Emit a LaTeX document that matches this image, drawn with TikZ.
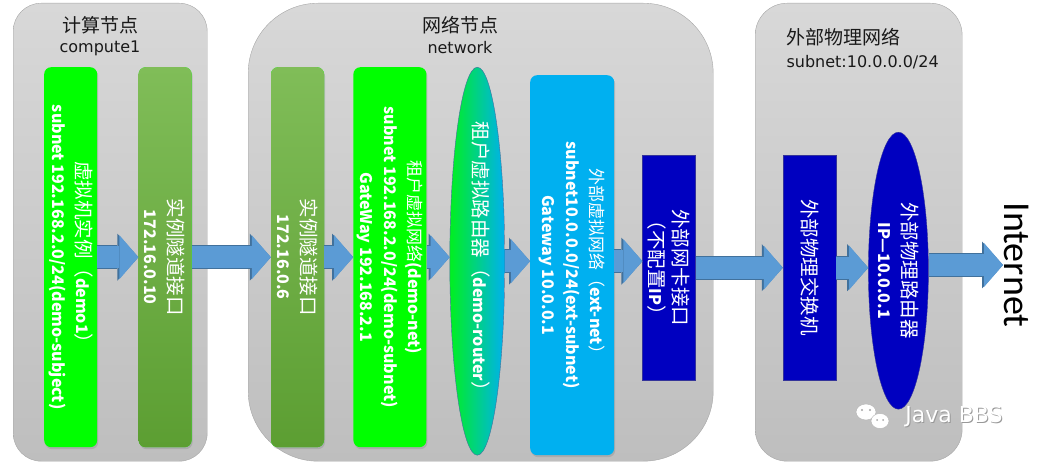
\documentclass[tikz,border=0pt]{standalone}
\usepackage{fontspec}
\setmainfont{Noto Sans CJK SC}
\newfontfamily\dejavu{DejaVu Sans}
\newfontfamily\carlito{Carlito}
\usetikzlibrary{arrows.meta,positioning,shapes.geometric,shadows}
\definecolor{pnl}{HTML}{D8D8D8}
\definecolor{pnlb}{HTML}{BEBEBE}
\definecolor{pnll}{HTML}{A6A6A6}
\definecolor{vmg}{HTML}{00FF00}
\definecolor{rtrg}{HTML}{00F020}
\definecolor{moss}{HTML}{80BD58}
\definecolor{mossb}{HTML}{5C9E32}
\definecolor{sky}{HTML}{00B0F0}
\definecolor{navy}{HTML}{0000C0}
\definecolor{navl}{HTML}{34349A}
\definecolor{arw}{HTML}{5B9BD5}
\definecolor{arwl}{HTML}{41719C}
\newcommand{\zhs}[1]{{\fontsize{19.5}{24}\selectfont#1}}
\newcommand{\zhm}[1]{{\fontsize{17}{24}\selectfont#1}}
\tikzset{
  panel/.style={draw=pnll,top color=pnl,bottom color=pnlb,anchor=north west,inner sep=0pt,minimum height=458pt},
  shd/.style={drop shadow={opacity=0.3,shadow xshift=1pt,shadow yshift=-2pt}},
  gbox/.style={fill=vmg,rounded corners=7pt,inner sep=0pt,minimum width=53pt,minimum height=380pt,shd},
  mbox/.style={gbox,top color=moss,bottom color=mossb},
  sbox/.style={gbox,fill=sky,minimum width=84pt},
  nbox/.style={draw=navl,fill=navy,inner sep=0pt,minimum width=53pt,minimum height=225pt},
  oval/.style={ellipse,inner sep=0pt,minimum width=55pt,minimum height=388pt},
  vtxt/.style={rotate=-90,text=white,align=center,font=\fontsize{16}{24}\selectfont},
  ttl/.style={font=\fontsize{19}{22}\selectfont,text=black!90},
  sub/.style={font=\dejavu\fontsize{16}{18}\selectfont,text=black!90},
  fat/.style={draw=arw,line width=22pt,-{Triangle[width=44pt,length=19pt,line width=0pt]},
    preaction={draw=arwl,line width=24pt,-{Triangle[width=47pt,length=21pt,line width=0pt]}}},
}
\begin{document}
\begin{tikzpicture}[x=1pt,y=-1pt,node distance=6pt]
\useasboundingbox (0,0) rectangle (1045,465);
\node[panel,rounded corners=28pt,minimum width=194pt] (cmp) at (13,3) {};
\node[panel,rounded corners=70pt,minimum width=465pt] (net) at (248,3) {};
\node[panel,rounded corners=32pt,minimum width=207pt] (ext) at (755,3) {};
\node[ttl] (cmpt) at (100,25) {计算节点};
\node[sub] (cmps) at (100,48) {compute1};
\node[ttl] (nett) at (460,25) {网络节点};
\node[sub] (nets) at (460,48) {network};
\node[ttl,anchor=west] (extt) at (783,37) {外部物理网络};
\node[sub,anchor=west] (exts) at (783,62) {subnet:10.0.0.0/24};

\node[gbox,anchor=north west] (vm) at (44,67) {};
\node[mbox,right=41pt of vm] (tun1) {};
\node[mbox,right=79pt of tun1] (tun2) {};
\node[gbox,minimum width=73pt,right=29pt of tun2] (tnet) {};
\node[oval,left color=rtrg,right color=sky,draw=arwl,right=23pt of tnet,yshift=-4pt] (rtr) {};
\node[sbox,right=25pt of rtr,yshift=-4pt] (enet) {};
\node[nbox,right=28pt of enet,yshift=-2.5pt] (nic) {};
\node[nbox,right=87pt of nic] (psw) {};
\node[oval,fill=navy,draw=navl,minimum width=60pt,minimum height=277pt,right=32pt of psw,yshift=-3pt] (prt) {};

\node[vtxt] (vmt) at (vm) {\zhs{虚拟机实例（}\textbf{demo1}\zhs{）}\\ \textbf{subnet 192.168.2.0/24(demo-subject)}};
\node[vtxt] (tun1t) at (tun1) {\zhs{实例隧道接口}\\ \textbf{172.16.0.10}};
\node[vtxt] (tun2t) at (tun2) {\zhs{实例隧道接口}\\ \textbf{172.16.0.6}};
\node[vtxt] (tnett) at (tnet) {\zhm{租户虚拟网络}\textbf{(demo-net)}\\ \textbf{subnet 192.168.2.0/24(demo-subnet)}\\ \textbf{GateWay 192.168.2.1}};
\node[vtxt,yshift=4pt] (rtrt) at (rtr) {\zhs{租户虚拟路由器（}\textbf{demo-router}\zhs{）}};
\node[vtxt] (enett) at (enet) {\zhm{外部虚拟网络（}\textbf{ext-net}\zhm{）}\\ \textbf{subnet10.0.0.0/24(ext-subnet)}\\ \textbf{Gateway 10.0.0.1}};
\node[vtxt] (nict) at (nic) {\zhs{外部网卡接口}\\ \zhs{（不配置}\textbf{IP}\zhs{）}};
\node[vtxt] (pswt) at (psw) {\zhs{外部物理交换机}};
\node[vtxt] (prtt) at (prt) {\zhs{外部物理路由器}\\ \textbf{IP—10.0.0.1}};
\node[font=\carlito\fontsize{38}{40}\selectfont,rotate=-90,anchor=south,inner sep=1pt] (inet) at (1003,265) {Internet};

\draw[fat] (vm) -- (tun1);
\draw[fat] (tun1) -- (tun2);
\draw[fat] (tun2) -- (tnet);
\draw[fat] (tnet.east) -- (tnet.east -| rtr.west);
\draw[fat] (rtr.east) -- (rtr.east -| enet.west);
\draw[fat] (rtr.east -| enet.east) -- (rtr.east -| nic.west);
\draw[fat] (nic) -- (psw);
\draw[fat] (psw.east) -- (psw.east -| prt.west);
\draw[fat] (prt.east |- inet.south) -- (inet.south);

\draw[black!30,fill=white] (866,412) ellipse (10 and 8);
\draw[black!30,fill=white] (880,421) ellipse (9 and 7.5);
\fill[black!35] (862,410) circle (1.2) (870,410) circle (1.2) (877,420) circle (1) (883,420) circle (1);
\node[font=\dejavu\fontsize{22}{24}\selectfont,text=black!40] (wms) at (955,418) {Java BBS};
\node[font=\dejavu\fontsize{22}{24}\selectfont,text=white] (wm) at (954,417) {Java BBS};
\end{tikzpicture}
\end{document}
